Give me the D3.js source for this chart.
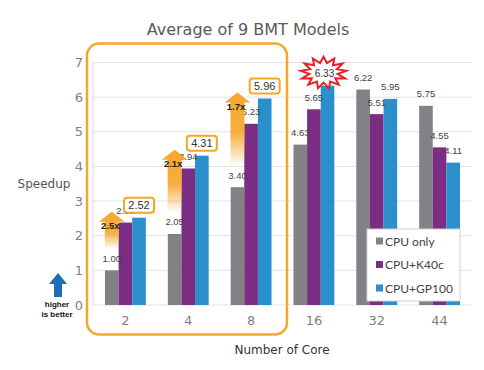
<!DOCTYPE html>
<html>
<head>
<meta charset="utf-8">
<script src="https://cdn.jsdelivr.net/npm/d3@7"></script>
<style>
  body { margin: 0; background: #fff; }
  svg { display: block; }
</style>
</head>
<body>
<svg id="chart" width="484" height="370"></svg>
<script>
// data
const cores = ["2", "4", "8", "16", "32", "44"];
const cpuOnly = [1.00, 2.05, 3.40, 4.63, 6.22, 5.75];
const cpuK40c = [2.38, 3.94, 5.23, 5.65, 5.51, 4.55];
const cpuGP100 = [2.52, 4.31, 5.96, 6.33, 5.95, 4.11];
const seriesNames = ["CPU only", "CPU+K40c", "CPU+GP100"];
const gainLabels = ["2.5x", "2.1x", "1.7x"];
const yTicks = [0, 1, 2, 3, 4, 5, 6, 7];

const colors = ["#808285", "#7b2c83", "#2a8fcb"];
const orange = "#f5a72a";

const svg = d3.select("#chart");
const defs = svg.append("defs");

const x = d3.scaleBand().domain(cores).range([94, 471]).paddingInner(0.35).paddingOuter(0.175);
const xs = d3.scaleBand().domain(d3.range(3)).range([0, x.bandwidth()]);
const y = d3.scaleLinear().domain([0, 7]).range([305, 62.5]);

// title
svg.append("text")
  .attr("x", 248).attr("y", 35)
  .attr("text-anchor", "middle")
  .style("font", "16px 'DejaVu Sans'")
  .attr("fill", "#5a5a5a")
  .text("Average of 9 BMT Models");

// grid
svg.append("g").selectAll("line")
  .data(yTicks)
  .join("line")
  .attr("x1", 93).attr("x2", 472)
  .attr("y1", d => y(d)).attr("y2", d => y(d))
  .attr("stroke", "#e2e2e2");
svg.append("line")
  .attr("x1", 93).attr("x2", 93)
  .attr("y1", y(7)).attr("y2", y(0))
  .attr("stroke", "#d8d8d8");

// y axis
const yAxis = svg.append("g")
  .attr("transform", "translate(83,0)")
  .call(d3.axisLeft(y).tickValues(yTicks).tickFormat(d3.format("d")).tickSize(0).tickPadding(0));
yAxis.select(".domain").remove();
yAxis.selectAll("text")
  .style("font", "13px 'DejaVu Sans'")
  .attr("fill", "#808080");

// x axis
const xAxis = svg.append("g")
  .attr("transform", "translate(0,316)")
  .call(d3.axisBottom(x).tickSize(0).tickPadding(0));
xAxis.select(".domain").remove();
xAxis.selectAll("text")
  .style("font", "13px 'DejaVu Sans'")
  .attr("fill", "#808080");

svg.append("text")
  .attr("x", 44).attr("y", 188)
  .attr("text-anchor", "middle")
  .style("font", "12px 'DejaVu Sans'")
  .attr("fill", "#555")
  .text("Speedup");

svg.append("text")
  .attr("x", 282).attr("y", 354)
  .attr("text-anchor", "middle")
  .style("font", "12px 'DejaVu Sans'")
  .attr("fill", "#333")
  .text("Number of Core");

// bars
const series = [cpuOnly, cpuK40c, cpuGP100];
const rows = cores.map((c, i) => ({ core: c, vals: series.map(s => s[i]) }));

const groups = svg.append("g").selectAll("g")
  .data(rows)
  .join("g")
  .attr("transform", d => `translate(${x(d.core)},0)`);

groups.selectAll("rect")
  .data(d => d.vals.map((v, k) => ({ v, k })))
  .join("rect")
  .attr("x", d => xs(d.k))
  .attr("width", xs.bandwidth())
  .attr("y", d => y(d.v))
  .attr("height", d => y(0) - y(d.v))
  .attr("fill", d => colors[d.k]);

// plain value labels
groups.selectAll("text.val")
  .data((d, i) => d.vals.map((v, k) => ({ v, k, i })).filter(e => !(e.k === 2 && e.i <= 3)))
  .join("text")
  .attr("class", "val")
  .attr("x", d => xs(d.k) + xs.bandwidth() / 2)
  .attr("y", d => y(d.v) - 8.5)
  .attr("text-anchor", "middle")
  .style("font", "9.5px 'Liberation Sans'")
  .attr("fill", "#444")
  .text(d => d.v.toFixed(2));

// speedup arrows for the first three groups
const grad = defs.append("linearGradient")
  .attr("id", "fade").attr("x1", 0).attr("y1", 0).attr("x2", 0).attr("y2", 1);
grad.append("stop").attr("offset", "0%").attr("stop-color", orange).attr("stop-opacity", 1);
grad.append("stop").attr("offset", "55%").attr("stop-color", orange).attr("stop-opacity", 0.9);
grad.append("stop").attr("offset", "100%").attr("stop-color", orange).attr("stop-opacity", 0);

gainLabels.forEach((lbl, i) => {
  const cx = x(cores[i]) + xs(0) + xs.bandwidth() / 2;
  const top = y(cpuGP100[i]) - 6;
  const bottom = y(cpuOnly[i]) - 21;
  const path = d3.path();
  path.moveTo(cx, top);
  path.lineTo(cx + 13, top + 10);
  path.lineTo(cx + 7, top + 10);
  path.lineTo(cx + 7, bottom);
  path.lineTo(cx - 7, bottom);
  path.lineTo(cx - 7, top + 10);
  path.lineTo(cx - 13, top + 10);
  path.closePath();
  svg.append("path")
    .attr("d", path.toString())
    .attr("fill", "url(#fade)");
  svg.append("text")
    .attr("x", cx - 1.5).attr("y", top + 17)
    .attr("text-anchor", "middle")
    .style("font", "bold 9.5px 'Liberation Sans'")
    .attr("fill", "#222")
    .text(lbl);
});

// boxed GP100 labels for 2, 4, 8
[0, 1, 2].forEach(i => {
  const cx = x(cores[i]) + xs(2) + xs.bandwidth() / 2;
  const cy = y(cpuGP100[i]) - 12.5;
  svg.append("rect")
    .attr("x", cx - 15).attr("y", cy - 7.5)
    .attr("width", 30).attr("height", 15)
    .attr("rx", 3)
    .attr("fill", "#fff")
    .attr("stroke", orange).attr("stroke-width", 2);
  svg.append("text")
    .attr("x", cx).attr("y", cy + 4)
    .attr("text-anchor", "middle")
    .style("font", "11px 'Liberation Sans'")
    .attr("fill", "#333")
    .text(cpuGP100[i].toFixed(2));
});

// starburst for the best value (16 cores)
{
  const cx = x(cores[3]) + xs(2) + xs.bandwidth() / 2 - 4;
  const cy = y(cpuGP100[3]) - 13;
  const n = 13;
  const pts = d3.range(n * 2).map(j => {
    const a = (j / (n * 2)) * Math.PI * 2 - Math.PI / 2;
    const r = j % 2 === 0 ? 1 : 0.62;
    return [cx + Math.cos(a) * 23 * r, cy + Math.sin(a) * 16 * r];
  });
  svg.append("path")
    .attr("d", d3.line()(pts) + "Z")
    .attr("fill", "#fff")
    .attr("stroke", "#e8202a").attr("stroke-width", 2)
    .attr("stroke-linejoin", "miter");
  svg.append("text")
    .attr("x", cx + 1).attr("y", cy + 4)
    .attr("text-anchor", "middle")
    .style("font", "10px 'Liberation Sans'")
    .attr("fill", "#333")
    .text(cpuGP100[3].toFixed(2));
}

// highlight frame around 2-8 cores
svg.append("rect")
  .attr("x", 87).attr("y", 43.5)
  .attr("width", 200).attr("height", 291)
  .attr("rx", 12)
  .attr("fill", "none")
  .attr("stroke", orange).attr("stroke-width", 2.5);

// legend
const legend = svg.append("g").attr("transform", "translate(367,229)");
legend.append("rect")
  .attr("width", 93).attr("height", 72)
  .attr("fill", "#fff")
  .attr("stroke", "#d0d0d0");
const li = legend.selectAll("g")
  .data(seriesNames)
  .join("g")
  .attr("transform", (d, i) => `translate(9,${12 + i * 23.5})`);
li.append("rect")
  .attr("x", 0).attr("y", -3.5)
  .attr("width", 7).attr("height", 7)
  .attr("fill", (d, i) => colors[i]);
li.append("text")
  .attr("x", 9).attr("y", 4.5)
  .style("font", "12px Lato")
  .attr("fill", "#444")
  .text(d => d);

// "higher is better" note
svg.append("path")
  .attr("d", "M58,273 L67,284 L62,284 L62,297 L54,297 L54,284 L49,284 Z")
  .attr("fill", "#1f6db5");
svg.append("text")
  .attr("x", 57).attr("y", 307)
  .attr("text-anchor", "middle")
  .style("font", "bold 8px 'Liberation Sans'")
  .attr("fill", "#111")
  .text("higher");
svg.append("text")
  .attr("x", 57).attr("y", 317)
  .attr("text-anchor", "middle")
  .style("font", "bold 8px 'Liberation Sans'")
  .attr("fill", "#111")
  .text("is better");
</script>
</body>
</html>
